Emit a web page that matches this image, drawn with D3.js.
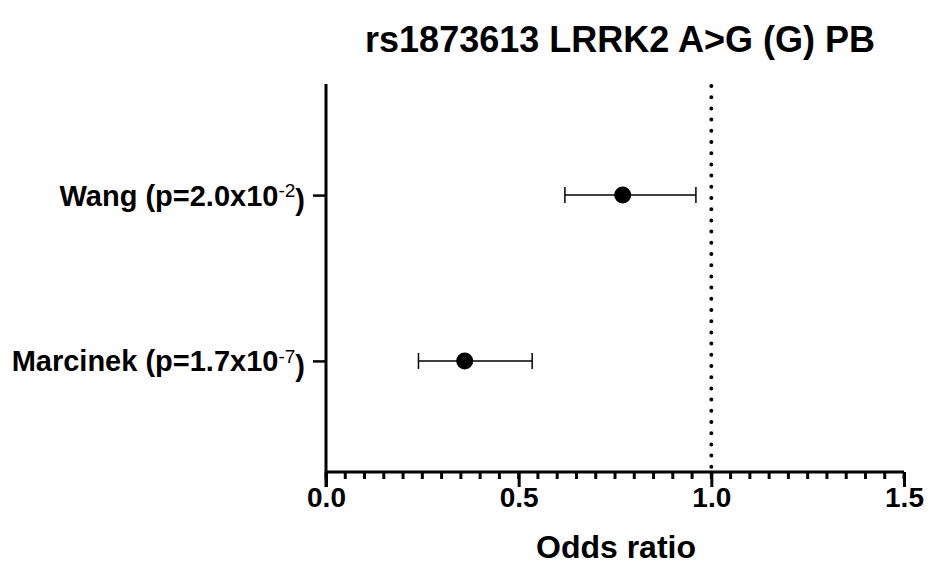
<!DOCTYPE html>
<html>
<head>
<meta charset="utf-8">
<script src="https://cdn.jsdelivr.net/npm/d3@7"></script>
<style>
  body { margin: 0; background: #fff; }
  text { font-family: "Liberation Sans", Arial, sans-serif; fill: #000; }
</style>
</head>
<body>
<svg width="929" height="571"></svg>
<script>
// study names and p-values (mantissa, exponent)
var studies = ["Wang", "Marcinek"];
var pMantissa = ["2.0", "1.7"];
var pExponent = ["-2", "-7"];
// odds ratio with 95% CI
var oddsRatio = [0.77, 0.36];
var ciLow = [0.62, 0.24];
var ciHigh = [0.96, 0.535];
var xTicks = [0.0, 0.5, 1.0, 1.5];
var refLine = 1.0;

var svg = d3.select("svg"),
    margin = {top: 84, right: 25, bottom: 99, left: 326},
    width = +svg.attr("width") - margin.left - margin.right,
    height = +svg.attr("height") - margin.top - margin.bottom;

var x = d3.scaleLinear().domain([0, 1.5]).range([0, 578]),
    y = d3.scalePoint().domain(studies).range([0, height]).padding(0.67);

var g = svg.append("g")
    .attr("transform", "translate(" + margin.left + "," + margin.top + ")");

// title
svg.append("text")
    .attr("x", 620)
    .attr("y", 52)
    .attr("text-anchor", "middle")
    .style("font-size", "36px")
    .style("font-weight", "bold")
    .text("rs1873613 LRRK2 A>G (G) PB");

// reference line at OR = 1
g.append("line")
    .attr("x1", x(refLine)).attr("x2", x(refLine))
    .attr("y1", 2).attr("y2", height)
    .attr("stroke", "#000")
    .attr("stroke-width", 4)
    .attr("stroke-linecap", "round")
    .attr("stroke-dasharray", "0,11.2");

// minor ticks
var minor = d3.range(0, 1.5001, 0.05);
g.append("g")
    .attr("transform", "translate(0," + height + ")")
    .selectAll("line")
    .data(minor)
    .enter().append("line")
      .attr("x1", function(d) { return x(d); })
      .attr("x2", function(d) { return x(d); })
      .attr("y1", 0)
      .attr("y2", 7)
      .attr("stroke", "#000")
      .attr("stroke-width", 3);

// x axis
var xAxis = g.append("g")
    .attr("transform", "translate(0," + height + ")")
    .call(d3.axisBottom(x).tickValues(xTicks).tickSize(15).tickSizeOuter(0).tickPadding(6)
      .tickFormat(d3.format(".1f")));
xAxis.select(".domain").attr("stroke-width", 3).attr("d", "M" + x(0) + ",0H" + x(1.5));
xAxis.selectAll(".tick line").attr("stroke-width", 3);
xAxis.selectAll(".tick text")
    .attr("dy", null)
    .attr("y", 35)
    .style("font-size", "28px")
    .style("font-weight", "bold")
    .attr("font-family", null);

// y axis
var yAxis = g.append("g")
    .call(d3.axisLeft(y).tickSize(13).tickSizeOuter(0).tickFormat(""));
yAxis.select(".domain").attr("stroke-width", 3).attr("d", "M0,0V" + (height + 15));
yAxis.selectAll(".tick line").attr("stroke-width", 2.5);

// y labels with superscript
var labels = g.selectAll(".ylab")
    .data(studies)
    .enter().append("text")
      .attr("class", "ylab")
      .attr("x", -21)
      .attr("y", function(d) { return y(d); })
      .attr("dy", "0.36em")
      .attr("text-anchor", "end")
      .style("font-size", "29px")
      .style("font-weight", "bold");
labels.append("tspan").text(function(d, i) { return d + " (p=" + pMantissa[i] + "x10"; });
labels.append("tspan")
    .attr("dy", "-0.45em")
    .style("font-size", "19px")
    .style("font-weight", "normal")
    .text(function(d, i) { return pExponent[i]; });
labels.append("tspan")
    .attr("dy", "0.45em")
    .text(")");

// error bars
var bars = g.selectAll(".bar")
    .data(studies)
    .enter().append("g")
      .attr("class", "bar");
bars.append("line")
    .attr("x1", function(d, i) { return x(ciLow[i]); })
    .attr("x2", function(d, i) { return x(ciHigh[i]); })
    .attr("y1", function(d) { return y(d); })
    .attr("y2", function(d) { return y(d); })
    .attr("stroke", "#000").attr("stroke-width", 1.5);
bars.append("line")
    .attr("x1", function(d, i) { return x(ciLow[i]); })
    .attr("x2", function(d, i) { return x(ciLow[i]); })
    .attr("y1", function(d) { return y(d) - 8; })
    .attr("y2", function(d) { return y(d) + 8; })
    .attr("stroke", "#000").attr("stroke-width", 1.5);
bars.append("line")
    .attr("x1", function(d, i) { return x(ciHigh[i]); })
    .attr("x2", function(d, i) { return x(ciHigh[i]); })
    .attr("y1", function(d) { return y(d) - 8; })
    .attr("y2", function(d) { return y(d) + 8; })
    .attr("stroke", "#000").attr("stroke-width", 1.5);
bars.append("circle")
    .attr("cx", function(d, i) { return x(oddsRatio[i]); })
    .attr("cy", function(d) { return y(d); })
    .attr("r", 8.5)
    .attr("fill", "#000");

// x axis title
svg.append("text")
    .attr("x", 616)
    .attr("y", 558)
    .attr("text-anchor", "middle")
    .style("font-size", "32px")
    .style("font-weight", "bold")
    .text("Odds ratio");
</script>
</body>
</html>
